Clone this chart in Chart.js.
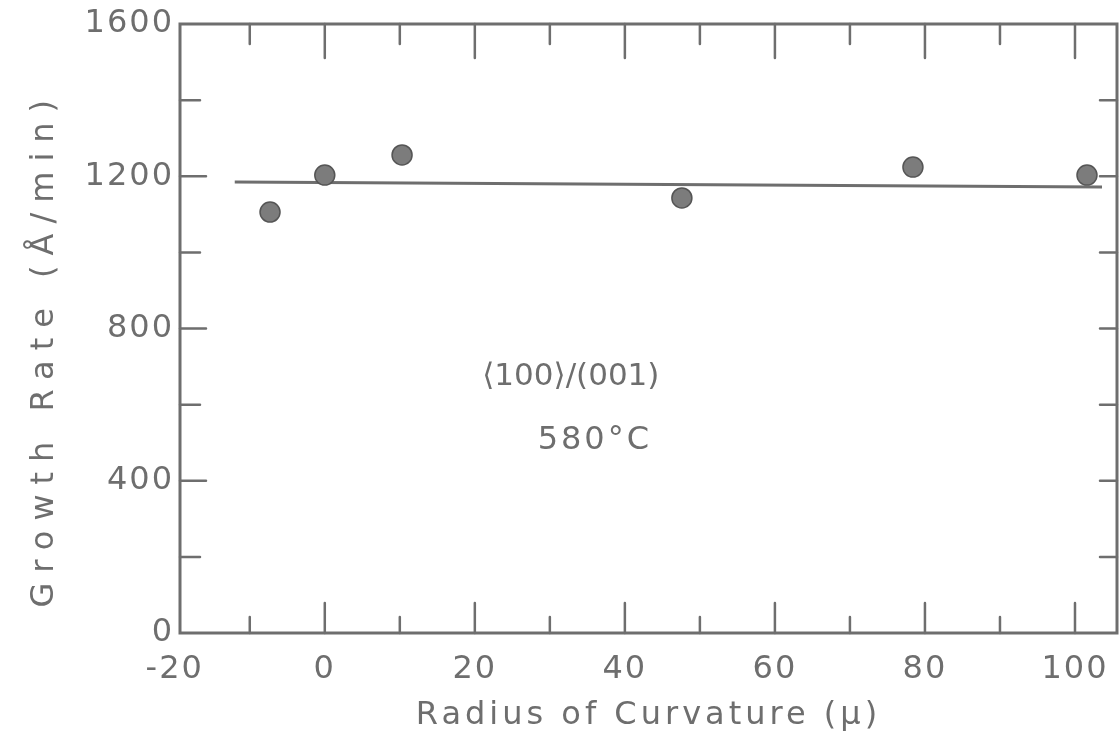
<!DOCTYPE html>
<html>
<head>
<meta charset="utf-8">
<script src="https://cdn.jsdelivr.net/npm/chart.js@4"></script>
<style>
  html, body { margin: 0; padding: 0; background: #fff; }
  #wrap { width: 1119px; height: 752px; }
</style>
</head>
<body>
<div id="wrap"><canvas id="growthChart" width="1119" height="752"></canvas></div>
<script>
// Data
const radius = [-7.3, 0, 10.3, 47.6, 78.4, 101.6];
const growthRate = [1106, 1203, 1256, 1143, 1224, 1203];
// hand-drawn mean line, end points
const fitRadius = [-12, 103.6];
const fitRate = [1185, 1172];
const xTickValues = [-20, -10, 0, 10, 20, 30, 40, 50, 60, 70, 80, 90, 100];
const xLabelValues = [-20, 0, 20, 40, 60, 80, 100];
const yLabelValues = [0, 400, 800, 1200, 1600];
const noteLines = ['⟨100⟩/(001)', '580°C'];

const ink = '#6e6e6e';
const fontFamily = '"DejaVu Sans", sans-serif';

// wraps a scale's title drawing so it gets its own letter spacing
function spaceTitle(scale, spacing) {
  if (scale._spaced) return;
  const orig = scale.drawTitle.bind(scale);
  scale.drawTitle = function () {
    const prev = this.ctx.letterSpacing;
    this.ctx.letterSpacing = spacing;
    orig();
    this.ctx.letterSpacing = prev;
  };
  scale._spaced = true;
}

// draws the box and the inward tick marks, the text note, and letter spacing
const frame = {
  id: 'frame',
  beforeDraw(chart) {
    chart.ctx.letterSpacing = '2px';
    spaceTitle(chart.scales.y, '10px');
    spaceTitle(chart.scales.x, '4px');
  },
  afterDatasetsDraw(chart) {
    const { ctx, chartArea: a, scales: { x, y } } = chart;
    ctx.save();
    ctx.strokeStyle = ink;
    ctx.lineWidth = 2.5;
    ctx.lineCap = 'round';
    ctx.beginPath();
    x.ticks.forEach(t => {
      const px = x.getPixelForValue(t.value);
      if (px <= a.left + 2 || px >= a.right - 2) return;
      const major = xLabelValues.includes(t.value);
      ctx.moveTo(px, a.bottom); ctx.lineTo(px, a.bottom - (major ? 30 : 16));
      ctx.moveTo(px, a.top); ctx.lineTo(px, a.top + (major ? 34 : 20));
    });
    y.ticks.forEach(t => {
      const py = y.getPixelForValue(t.value);
      if (py <= a.top + 2 || py >= a.bottom - 2) return;
      const major = yLabelValues.includes(t.value);
      ctx.moveTo(a.left, py); ctx.lineTo(a.left + (major ? 26 : 20), py);
      ctx.moveTo(a.right, py); ctx.lineTo(a.right - 17, py);
    });
    ctx.stroke();
    ctx.lineWidth = 3;
    ctx.strokeRect(a.left, a.top, a.right - a.left, a.bottom - a.top);

    // note text inside the plot
    ctx.fillStyle = ink;
    ctx.font = '31px ' + fontFamily;
    ctx.letterSpacing = '0px';
    ctx.textAlign = 'center';
    ctx.textBaseline = 'middle';
    ctx.fillText(noteLines[0], x.getPixelForValue(32.8), y.getPixelForValue(672));
    ctx.font = '32px ' + fontFamily;
    ctx.letterSpacing = '3px';
    ctx.fillText(noteLines[1], x.getPixelForValue(36), y.getPixelForValue(505));
    ctx.restore();
  },
  afterDraw(chart) {
    chart.ctx.letterSpacing = '0px';
  }
};

new Chart(document.getElementById('growthChart'), {
  type: 'scatter',
  data: {
    datasets: [
      {
        label: 'Growth rate',
        data: radius.map((r, i) => ({ x: r, y: growthRate[i] })),
        pointRadius: 10,
        pointBackgroundColor: '#7c7c7c',
        pointBorderColor: '#555',
        pointBorderWidth: 1.5
      },
      {
        type: 'line',
        label: 'Mean',
        data: fitRadius.map((r, i) => ({ x: r, y: fitRate[i] })),
        borderColor: ink,
        borderWidth: 3,
        pointRadius: 0,
        fill: false
      }
    ]
  },
  options: {
    responsive: false,
    animation: false,
    layout: { autoPadding: false, padding: { top: 24, right: 2, left: 0, bottom: 0 } },
    plugins: {
      legend: { display: false },
      tooltip: { enabled: false }
    },
    scales: {
      x: {
        type: 'linear',
        min: -19.3,
        max: 105.6,
        grid: { display: false, drawTicks: false },
        border: { display: false },
        afterBuildTicks: s => { s.ticks = xTickValues.map(v => ({ value: v })); },
        ticks: {
          autoSkip: false,
          maxRotation: 0,
          padding: 17,
          color: ink,
          font: { family: fontFamily, size: 32 },
          callback: v => xLabelValues.includes(v) ? String(v) : ''
        },
        title: {
          display: true,
          text: 'Radius of Curvature (μ)',
          color: ink,
          font: { family: fontFamily, size: 32 },
          padding: { top: 0, bottom: 17 }
        },
        afterFit: s => { s.height = 119; s.paddingLeft = 0; s.paddingRight = 0; }
      },
      y: {
        min: 0,
        max: 1600,
        grid: { display: false, drawTicks: false },
        border: { display: false },
        ticks: {
          stepSize: 200,
          autoSkip: false,
          padding: 6,
          color: ink,
          font: { family: fontFamily, size: 32 },
          callback: v => yLabelValues.includes(v) ? String(v) : ''
        },
        title: {
          display: true,
          text: 'Growth Rate (Å/min)  ',
          color: ink,
          font: { family: fontFamily, size: 32 },
          padding: { top: 25, bottom: 0 }
        },
        afterFit: s => { s.width = 180; s.paddingTop = 0; s.paddingBottom = 0; }
      }
    }
  },
  plugins: [frame]
});
</script>
</body>
</html>
